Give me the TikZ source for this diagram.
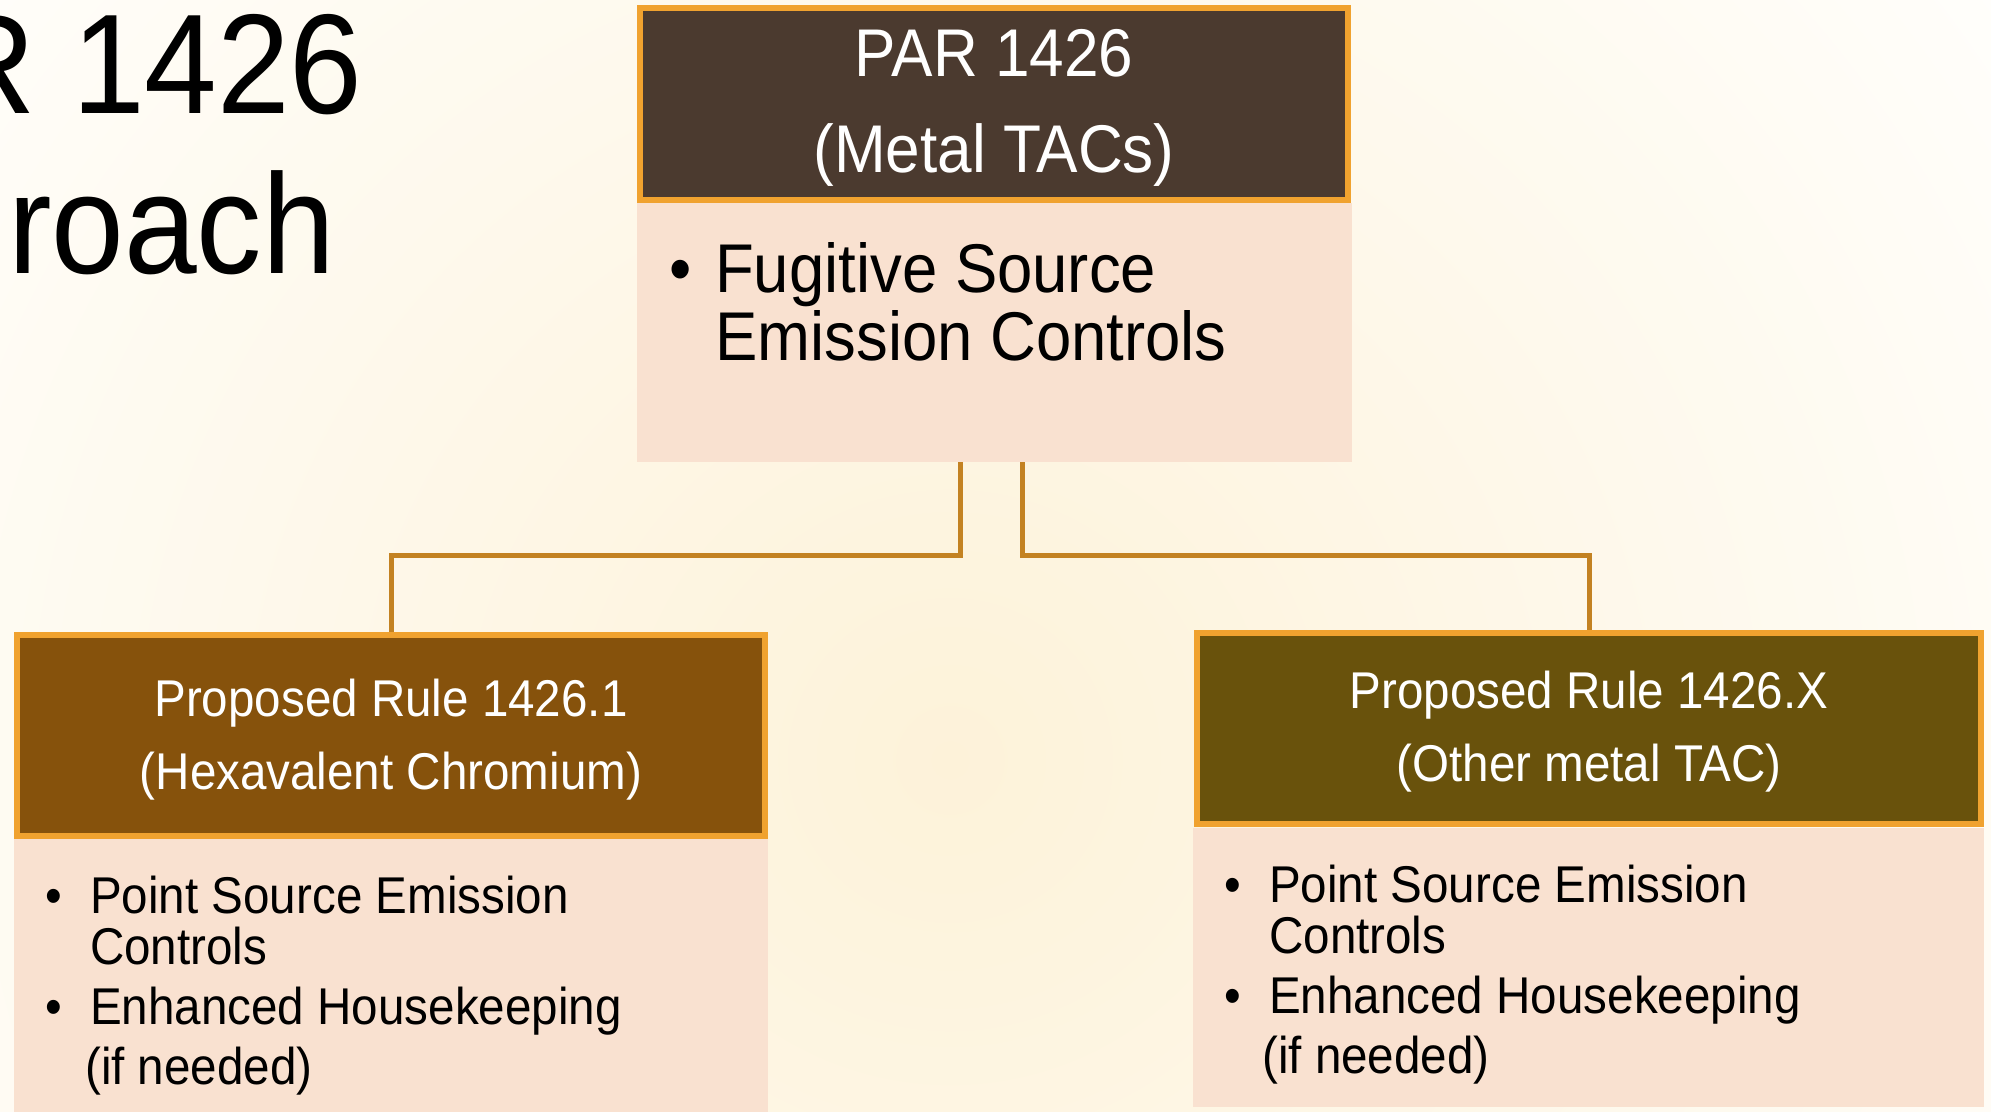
\documentclass[tikz,border=0pt]{standalone}
\usepackage{fontspec}
\setmainfont{Liberation Sans}[FakeStretch=0.92]
\definecolor{bgin}{HTML}{FDF2D9}
\definecolor{bgout}{HTML}{FFFEFB}
\definecolor{hdrtop}{HTML}{4B3A2F}
\definecolor{hdrleft}{HTML}{86520C}
\definecolor{hdrright}{HTML}{69520C}
\definecolor{bord}{HTML}{F0A22F}
\definecolor{bodyfill}{HTML}{F9E1D0}
\definecolor{connc}{HTML}{C38222}
\tikzset{
  hdr/.style={draw=bord, line width=6pt, text=white, align=center, inner sep=0pt},
  bodybox/.style={fill=bodyfill, draw=none, inner sep=0pt},
  conn/.style={draw=connc, line width=5pt},
  txt/.style={inner sep=0pt, anchor=base west, text=black},
  ttl/.style={inner sep=0pt, anchor=base east, text=black, font=\fontsize{142}{160}\selectfont},
  bigf/.style={font=\fontsize{69}{70}\selectfont},
  smallf/.style={font=\fontsize{51.7}{52}\selectfont}
}
\begin{document}
\begin{tikzpicture}[x=1pt, y=-1pt]
\useasboundingbox (0,0) rectangle (1991,1111);
\begin{scope}
\clip (0,0) rectangle (1991,1111);
\fill[bgout] (0,0) rectangle (1991,1111);
\shade[inner color=bgin, outer color=bgout] (950,760) circle (1300);
\end{scope}
% title
\node[ttl] (t1) at (363,113) {R 1426};
\node[ttl] (t2) at (335,273) {roach};
% bodies
\node[bodybox, minimum width=715, minimum height=259] (b0) at (994.5,332.5) {};
\node[bodybox, minimum width=754, minimum height=276] (b1) at (391,977) {};
\node[bodybox, minimum width=791, minimum height=279] (b2) at (1588.5,967.5) {};
% connectors
\draw[conn] (b0.south) ++(-34.5,0) coordinate (c1) -- ++(0,93) -| (391,632) coordinate (e1);
\draw[conn] (b0.south) ++(27.5,0) coordinate (c2) -- ++(0,93) -| (1589,631) coordinate (e2);
% headers
\node[hdr, fill=hdrtop, minimum width=708, minimum height=192,
      font=\fontsize{67.5}{96}\selectfont] (h0) at (994,104) {\raisebox{-4pt}[\height][\depth]{\parbox{700pt}{\centering PAR 1426\\(Metal TACs)}}};
\node[hdr, fill=hdrleft, minimum width=748, minimum height=201,
      font=\fontsize{51.7}{73}\selectfont] (h1) at (391,735.5) {\raisebox{-4pt}[\height][\depth]{\parbox{740pt}{\centering Proposed Rule 1426.1\\(Hexavalent Chromium)}}};
\node[hdr, fill=hdrright, minimum width=784, minimum height=191,
      font=\fontsize{51.7}{73}\selectfont] (h2) at (1589,728.5) {\raisebox{-3pt}[\height][\depth]{\parbox{776pt}{\centering Proposed Rule 1426.X\\(Other metal TAC)}}};
% top body text
\node[txt, bigf] (p0) at (669,292) {•};
\node[txt, bigf] (p1) at (715,292) {Fugitive Source};
\node[txt, bigf] (p2) at (715,360) {Emission Controls};
% left body text
\node[txt, smallf] (l0) at (45,913) {•};
\node[txt, smallf] (l1) at (90,913) {Point Source Emission};
\node[txt, smallf] (l2) at (90,964) {Controls};
\node[txt, smallf] (l3) at (45,1024) {•};
\node[txt, smallf] (l4) at (90,1024) {Enhanced Housekeeping};
\node[txt, smallf] (l5) at (85,1084) {(if needed)};
% right body text
\node[txt, smallf] (r0) at (1224,902) {•};
\node[txt, smallf] (r1) at (1269,902) {Point Source Emission};
\node[txt, smallf] (r2) at (1269,953) {Controls};
\node[txt, smallf] (r3) at (1224,1013) {•};
\node[txt, smallf] (r4) at (1269,1013) {Enhanced Housekeeping};
\node[txt, smallf] (r5) at (1262,1073) {(if needed)};
\end{tikzpicture}
\end{document}
